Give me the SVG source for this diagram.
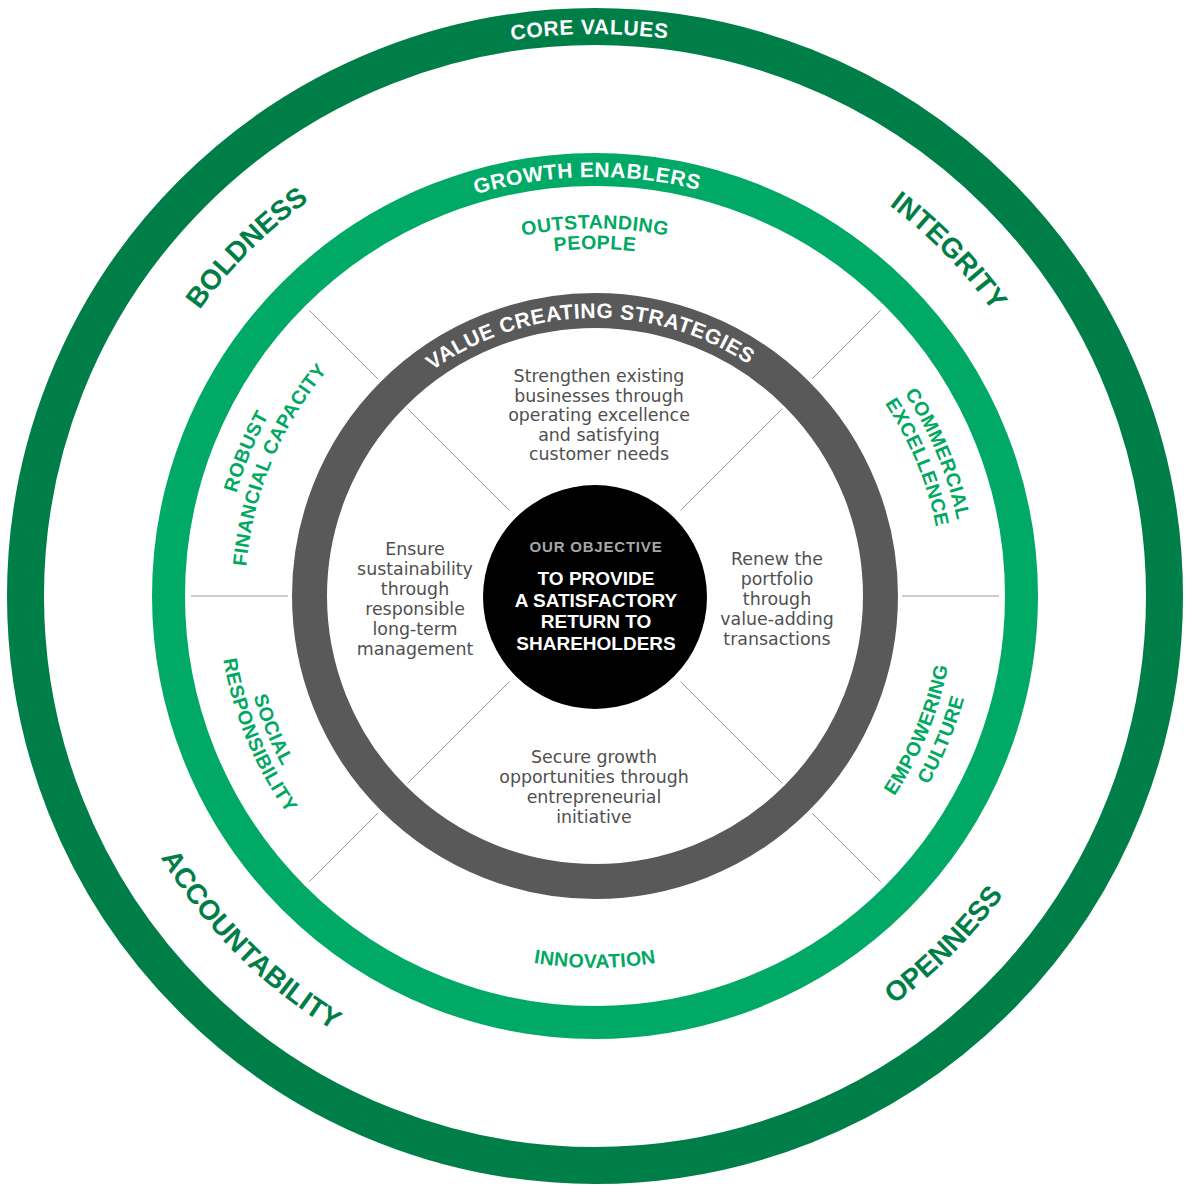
<svg xmlns="http://www.w3.org/2000/svg" xmlns:xlink="http://www.w3.org/1999/xlink" width="1191" height="1191" viewBox="0 0 1191 1191">
<style>
.ring{fill:none}
.ringlbl{font-family:"Liberation Sans",Arial,sans-serif;font-weight:bold;font-size:21px;fill:#ffffff;letter-spacing:0.6px}
.cv{font-family:"Liberation Sans",Arial,sans-serif;font-weight:bold;font-size:28px;fill:#007E47;letter-spacing:0px}
.ge{font-family:"Liberation Sans",Arial,sans-serif;font-weight:bold;font-size:19.5px;fill:#00A862;letter-spacing:0.4px}
.body{font-family:"DejaVu Sans",Verdana,sans-serif;font-size:17.4px;fill:#505050;text-anchor:middle}
.obj{font-family:"Liberation Sans",Arial,sans-serif;font-weight:bold;font-size:19px;fill:#ffffff;text-anchor:middle}
.divider{stroke:#9a9a9a;stroke-width:1;fill:none}
</style>
<defs>
<path id="pCore" d="M 33 596 A 562 562 0 0 1 1157 596"/>
<path id="pGrowth" d="M 176 596 A 419 419 0 0 1 1014 596"/>
<path id="pValue" d="M 317 596 A 278 278 0 0 1 873 596"/>
<path id="pBold" d="M 123.63 722.30 A 488 488 0 0 1 721.30 124.63"/>
<path id="pInteg" d="M 468.44 123.66 A 489 489 0 0 1 1067.34 722.56"/>
<path id="pAcc" d="M 105.27 464.78 A 507 507 0 0 0 726.22 1085.73"/>
<path id="pOpen" d="M 464.04 1084.76 A 506 506 0 0 0 1083.76 465.04"/>
<path id="pOut1" d="M 227.5 596 A 367.5 367.5 0 0 1 962.5 596"/>
<path id="pOut2" d="M 248 596 A 347 347 0 0 1 942 596"/>
<path id="pRob1" d="M 299.08 823.07 A 373 373 0 0 1 546.31 226.19"/>
<path id="pRob2" d="M 317.33 809.07 A 350 350 0 0 1 549.31 249.00"/>
<path id="pCom1" d="M 643.30 229.17 A 370 370 0 0 1 888.54 821.24"/>
<path id="pCom2" d="M 640.42 250.98 A 348 348 0 0 1 871.09 807.85"/>
<path id="pEmp1" d="M 641.99 952.92 A 360 360 0 0 0 880.61 376.85"/>
<path id="pEmp2" d="M 644.99 975.72 A 383 383 0 0 0 898.85 362.84"/>
<path id="pSoc1" d="M 312.57 379.28 A 356 356 0 0 0 548.53 948.95"/>
<path id="pSoc2" d="M 295.91 366.50 A 377 377 0 0 0 545.79 969.77"/>
<path id="pInn" d="M 223 596 A 372 372 0 0 0 967 596"/>
</defs>
<rect width="1191" height="1191" fill="#ffffff"/>

<g id="core-values-ring">
<circle class="ring" cx="595" cy="596" r="569.5" stroke="#007E47" stroke-width="37"/>
<text class="ringlbl"><textPath href="#pCore" xlink:href="#pCore" startOffset="49.7%" text-anchor="middle">CORE VALUES</textPath></text>
</g>
<g id="growth-enablers-ring">
<circle class="ring" cx="595" cy="596" r="426.5" stroke="#00AA66" stroke-width="33"/>
<text class="ringlbl"><textPath href="#pGrowth" xlink:href="#pGrowth" startOffset="49.4%" text-anchor="middle">GROWTH ENABLERS</textPath></text>
</g>
<g id="value-strategies-ring">
<circle class="ring" cx="595" cy="596" r="285.5" stroke="#595959" stroke-width="35"/>
<text class="ringlbl"><textPath href="#pValue" xlink:href="#pValue" startOffset="49.4%" text-anchor="middle">VALUE CREATING STRATEGIES</textPath></text>
</g>

<g id="connectors">
<line class="divider" x1="902" y1="596" x2="999" y2="596"/>
<line class="divider" x1="288" y1="596" x2="191" y2="596"/>
<line class="divider" x1="377.92" y1="378.92" x2="309.33" y2="310.33"/>
<line class="divider" x1="812.08" y1="378.92" x2="880.67" y2="310.33"/>
<line class="divider" x1="812.08" y1="813.08" x2="880.67" y2="881.67"/>
<line class="divider" x1="377.92" y1="813.08" x2="309.33" y2="881.67"/>
<line class="divider" x1="509.44" y1="510.44" x2="407.62" y2="408.62"/>
<line class="divider" x1="680.56" y1="510.44" x2="782.38" y2="408.62"/>
<line class="divider" x1="680.56" y1="681.56" x2="782.38" y2="783.38"/>
<line class="divider" x1="509.44" y1="681.56" x2="407.62" y2="783.38"/>
</g>

<g id="value-boldness"><text class="cv"><textPath href="#pBold" xlink:href="#pBold" startOffset="50%" text-anchor="middle">BOLDNESS</textPath></text></g>
<g id="value-integrity"><text class="cv"><textPath href="#pInteg" xlink:href="#pInteg" startOffset="50.6%" text-anchor="middle">INTEGRITY</textPath></text></g>
<g id="value-accountability"><text class="cv"><textPath href="#pAcc" xlink:href="#pAcc" startOffset="50%" text-anchor="middle">ACCOUNTABILITY</textPath></text></g>
<g id="value-openness"><text class="cv"><textPath href="#pOpen" xlink:href="#pOpen" startOffset="50%" text-anchor="middle">OPENNESS</textPath></text></g>

<g id="enabler-outstanding-people">
<text class="ge"><textPath href="#pOut1" xlink:href="#pOut1" startOffset="50%" text-anchor="middle">OUTSTANDING</textPath></text>
<text class="ge"><textPath href="#pOut2" xlink:href="#pOut2" startOffset="50%" text-anchor="middle">PEOPLE</textPath></text>
</g>
<g id="enabler-robust-financial">
<text class="ge"><textPath href="#pRob1" xlink:href="#pRob1" startOffset="50%" text-anchor="middle">ROBUST</textPath></text>
<text class="ge"><textPath href="#pRob2" xlink:href="#pRob2" startOffset="50%" text-anchor="middle">FINANCIAL CAPACITY</textPath></text>
</g>
<g id="enabler-commercial-excellence">
<text class="ge"><textPath href="#pCom1" xlink:href="#pCom1" startOffset="50%" text-anchor="middle">COMMERCIAL</textPath></text>
<text class="ge"><textPath href="#pCom2" xlink:href="#pCom2" startOffset="50%" text-anchor="middle">EXCELLENCE</textPath></text>
</g>
<g id="enabler-empowering-culture">
<text class="ge"><textPath href="#pEmp1" xlink:href="#pEmp1" startOffset="50%" text-anchor="middle">EMPOWERING</textPath></text>
<text class="ge"><textPath href="#pEmp2" xlink:href="#pEmp2" startOffset="50%" text-anchor="middle">CULTURE</textPath></text>
</g>
<g id="enabler-social-responsibility">
<text class="ge"><textPath href="#pSoc1" xlink:href="#pSoc1" startOffset="50%" text-anchor="middle">SOCIAL</textPath></text>
<text class="ge"><textPath href="#pSoc2" xlink:href="#pSoc2" startOffset="50%" text-anchor="middle">RESPONSIBILITY</textPath></text>
</g>
<g id="enabler-innovation">
<text class="ge"><textPath href="#pInn" xlink:href="#pInn" startOffset="50%" text-anchor="middle">INNOVATION</textPath></text>
</g>

<g id="strategy-strengthen">
<text class="body" x="599" y="382">Strengthen existing</text>
<text class="body" x="599" y="401.5">businesses through</text>
<text class="body" x="599" y="421">operating excellence</text>
<text class="body" x="599" y="440.5">and satisfying</text>
<text class="body" x="599" y="460">customer needs</text>
</g>
<g id="strategy-ensure">
<text class="body" x="415" y="555">Ensure</text>
<text class="body" x="415" y="575">sustainability</text>
<text class="body" x="415" y="595">through</text>
<text class="body" x="415" y="615">responsible</text>
<text class="body" x="415" y="635">long-term</text>
<text class="body" x="415" y="655">management</text>
</g>
<g id="strategy-renew">
<text class="body" x="777" y="565">Renew the</text>
<text class="body" x="777" y="585">portfolio</text>
<text class="body" x="777" y="605">through</text>
<text class="body" x="777" y="625">value-adding</text>
<text class="body" x="777" y="645">transactions</text>
</g>
<g id="strategy-secure">
<text class="body" x="594" y="763">Secure growth</text>
<text class="body" x="594" y="783">opportunities through</text>
<text class="body" x="594" y="803">entrepreneurial</text>
<text class="body" x="594" y="823">initiative</text>
</g>

<g id="objective">
<circle cx="595" cy="597" r="112" fill="#000000"/>
<text class="obj" x="596" y="552" style="font-size:15px;fill:#a6a6a6;letter-spacing:0.8px">OUR OBJECTIVE</text>
<text class="obj" x="596" y="585">TO PROVIDE</text>
<text class="obj" x="596" y="607">A SATISFACTORY</text>
<text class="obj" x="596" y="628">RETURN TO</text>
<text class="obj" x="596" y="650">SHAREHOLDERS</text>
</g>
</svg>
